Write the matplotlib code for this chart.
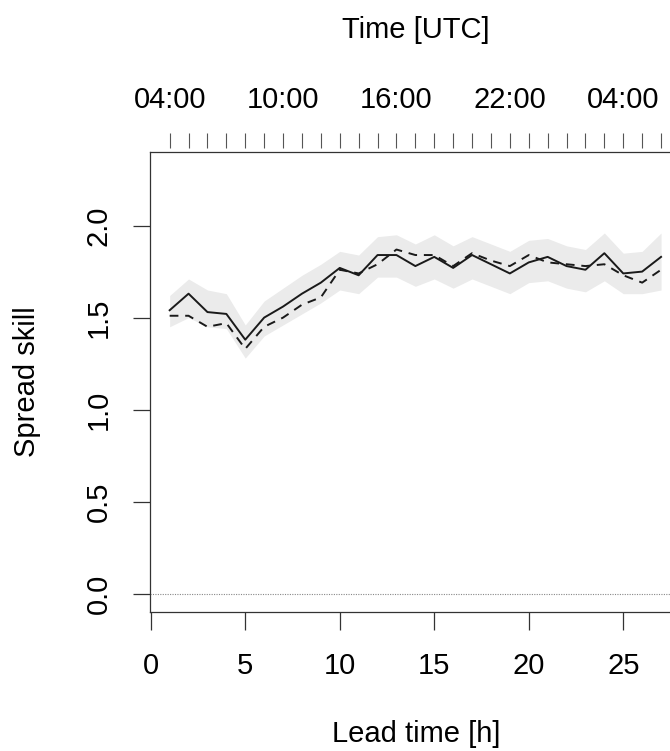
import numpy as np
import matplotlib
matplotlib.use("Agg")
import matplotlib.pyplot as plt

plt.rcParams['font.family'] = ['Liberation Sans', 'DejaVu Sans']

# lead times [h]
lead = np.arange(1, 28)

# spread skill, solid line
skill = [1.54, 1.63, 1.53, 1.52, 1.38, 1.50, 1.56, 1.63, 1.69, 1.77,
         1.73, 1.84, 1.84, 1.78, 1.83, 1.77, 1.84, 1.79, 1.74, 1.80,
         1.83, 1.78, 1.76, 1.85, 1.74, 1.75, 1.83]

# second estimate, dashed line
skill_dash = [1.51, 1.51, 1.45, 1.47, 1.33, 1.45, 1.50, 1.57, 1.61, 1.76,
              1.74, 1.79, 1.87, 1.84, 1.84, 1.78, 1.85, 1.81, 1.78, 1.84,
              1.80, 1.79, 1.78, 1.79, 1.73, 1.69, 1.76]

# shaded band
band_hi = [1.62, 1.71, 1.65, 1.63, 1.46, 1.59, 1.66, 1.73, 1.79, 1.86,
           1.84, 1.94, 1.95, 1.90, 1.95, 1.89, 1.94, 1.90, 1.86, 1.92,
           1.93, 1.89, 1.87, 1.96, 1.85, 1.86, 1.96]
band_lo = [1.45, 1.50, 1.45, 1.44, 1.28, 1.40, 1.46, 1.52, 1.58, 1.65,
           1.63, 1.72, 1.72, 1.67, 1.71, 1.66, 1.71, 1.67, 1.63, 1.69,
           1.70, 1.66, 1.64, 1.70, 1.63, 1.63, 1.65]

bottom_ticks = [0, 5, 10, 15, 20, 25]
y_ticks = [0.0, 0.5, 1.0, 1.5, 2.0]
top_ticks = np.arange(1, 29)
top_labels = {1: "04:00", 7: "10:00", 13: "16:00", 19: "22:00", 25: "04:00"}

W, H = 670, 751
fig = plt.figure(figsize=(W / 100, H / 100), dpi=100)

# R-style 4% padding around lead 1..27
xmin, xmax = -0.04, 28.04
px_per_h = 18.9
ax = fig.add_axes([150 / W, (H - 612) / H, px_per_h * (xmax - xmin) / W, (612 - 152) / H])

ax.fill_between(lead, band_lo, band_hi, color='#ebebeb', lw=0, zorder=1)
ax.plot(lead, skill, color='#1a1a1a', lw=1.4, zorder=3)
ax.plot(lead, skill_dash, color='#1a1a1a', lw=1.4, ls=(0, (4.5, 3.5)), zorder=3)
ax.axhline(0, color='#888888', lw=0.8, ls=(0, (1, 1.2)), zorder=2)

ax.set_xlim(xmin, xmax)
ax.set_ylim(-0.10, 2.40)

for s in ax.spines.values():
    s.set_color('#333333')
    s.set_linewidth(0.9)

fs = 21
ax.set_xticks(bottom_ticks)
ax.set_xticklabels([str(t) for t in bottom_ticks], fontsize=fs)
ax.set_yticks(y_ticks)
ax.set_yticklabels(["%.1f" % t for t in y_ticks], fontsize=fs, rotation=90, va='center')
ax.tick_params(axis='x', length=13, width=0.9, color='#333333', pad=15.5)
ax.tick_params(axis='y', length=12, width=0.9, color='#333333', pad=15)

sec = ax.secondary_xaxis('top')
sec.spines['top'].set_visible(False)
sec.spines['top'].set_position(('outward', 3))
sec.set_xticks(top_ticks)
sec.set_xticklabels([top_labels.get(int(t), "") for t in top_ticks], fontsize=fs)
sec.tick_params(axis='x', length=11, width=0.8, color='#555555', pad=13)

fig.text(416 / W, 1 - 30 / H, "Time [UTC]", fontsize=fs, ha='center', va='center')
fig.text(416 / W, 1 - 734 / H, "Lead time [h]", fontsize=fs, ha='center', va='center')
fig.text(27 / W, 1 - 382 / H, "Spread skill", fontsize=fs, ha='center', va='center', rotation=90)

fig.savefig("out.png", dpi=100)
